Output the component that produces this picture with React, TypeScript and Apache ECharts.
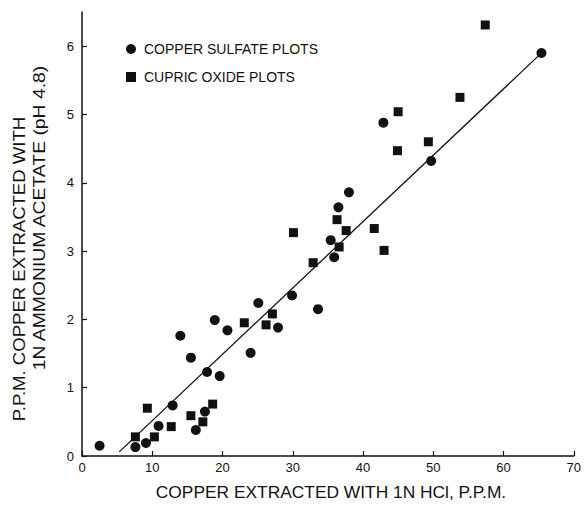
import React, { useEffect, useRef } from "react";
import * as echarts from "echarts";

// Copper sulfate plots (circles)
const sulfateX = [2.5, 7.6, 9.1, 10.9, 12.9, 14.0, 15.5, 16.2, 17.5, 17.8, 18.9, 19.6, 20.7, 24.0, 25.1, 27.9, 29.9, 33.6, 35.4, 35.9, 36.5, 38.0, 42.9, 49.7, 65.4];
const sulfateY = [0.15, 0.13, 0.19, 0.44, 0.74, 1.76, 1.44, 0.38, 0.65, 1.23, 1.99, 1.17, 1.84, 1.51, 2.24, 1.88, 2.35, 2.15, 3.16, 2.91, 3.64, 3.86, 4.88, 4.32, 5.9];

// Cupric oxide plots (squares)
const oxideX = [7.6, 9.3, 10.3, 12.7, 15.5, 17.2, 18.6, 23.1, 26.2, 27.1, 30.1, 32.9, 36.3, 36.6, 37.6, 41.6, 43.0, 44.9, 45.0, 49.3, 53.8, 57.4];
const oxideY = [0.28, 0.7, 0.28, 0.43, 0.59, 0.5, 0.76, 1.95, 1.92, 2.08, 3.27, 2.83, 3.46, 3.06, 3.3, 3.33, 3.01, 4.47, 5.04, 4.6, 5.25, 6.31];

// Fitted line end points
const fitX = [5.3, 65.2];
const fitY = [0.06, 5.88];

const yTicks = [0, 1, 2, 3, 4, 5, 6];
const seriesNames = ["COPPER SULFATE PLOTS", "CUPRIC OXIDE PLOTS"];
const xTitle = "COPPER EXTRACTED WITH 1N HCl, P.P.M.";
const yTitle1 = "P.P.M. COPPER EXTRACTED WITH";
const yTitle2 = "1N AMMONIUM ACETATE (pH 4.8)";

const FONT = "'Liberation Sans', Arial, sans-serif";
const INK = "#111";

export default function App() {
  const ref = useRef<HTMLDivElement>(null);
  useEffect(() => {
    const chart = echarts.init(ref.current!, null, { renderer: "svg" });
    chart.setOption({
      animation: false,
      backgroundColor: "#fff",
      grid: { left: 82, right: 10, top: 12, bottom: 49, containLabel: false },
      legend: {
        data: seriesNames,
        orient: "vertical",
        left: 126,
        top: 42,
        itemWidth: 10,
        itemHeight: 10,
        itemGap: 14,
        padding: 0,
        selectedMode: false,
        textStyle: { color: INK, fontSize: 14, fontFamily: FONT, padding: [0, 0, 0, 3] },
      },
      xAxis: {
        type: "value",
        min: 0,
        max: 70,
        interval: 10,
        axisLine: { show: true, lineStyle: { color: INK, width: 1.5 } },
        axisTick: { show: true, inside: true, length: 5, lineStyle: { color: INK, width: 1.2 } },
        axisLabel: { color: INK, fontSize: 13, fontFamily: FONT, margin: 5 },
        splitLine: { show: false },
      },
      yAxis: {
        type: "value",
        min: 0,
        max: 6.5,
        interval: 1,
        axisLine: { show: true, lineStyle: { color: INK, width: 1.5 } },
        axisTick: { show: true, inside: true, length: 5, customValues: yTicks, lineStyle: { color: INK, width: 1.2 } },
        axisLabel: { color: INK, fontSize: 13, fontFamily: FONT, margin: 8, customValues: yTicks },
        splitLine: { show: false },
      },
      graphic: [
        {
          type: "text",
          x: 331,
          y: 493,
          scaleX: 1.085,
          style: { text: xTitle, fill: INK, font: `16px ${FONT}`, align: "center", verticalAlign: "middle" },
        },
        {
          type: "text",
          x: 19,
          y: 269,
          rotation: Math.PI / 2,
          scaleX: 1.16,
          style: { text: yTitle1, fill: INK, font: `16px ${FONT}`, align: "center", verticalAlign: "middle" },
        },
        {
          type: "text",
          x: 40,
          y: 218,
          rotation: Math.PI / 2,
          scaleX: 1.21,
          style: { text: yTitle2, fill: INK, font: `16px ${FONT}`, align: "center", verticalAlign: "middle" },
        },
      ],
      series: [
        {
          name: seriesNames[0],
          type: "scatter",
          symbol: "circle",
          symbolSize: 10,
          itemStyle: { color: INK, opacity: 1 },
          data: sulfateX.map((x, i) => [x, sulfateY[i]]),
        },
        {
          name: seriesNames[1],
          type: "scatter",
          symbol: "rect",
          symbolSize: 9,
          itemStyle: { color: INK, opacity: 1 },
          data: oxideX.map((x, i) => [x, oxideY[i]]),
        },
        {
          name: "fit",
          type: "line",
          showSymbol: false,
          silent: true,
          lineStyle: { color: INK, width: 1.3 },
          data: fitX.map((x, i) => [x, fitY[i]]),
        },
      ],
    });
    return () => chart.dispose();
  }, []);
  return <div ref={ref} style={{ position: "fixed", left: 0, top: 0, width: 584, height: 505 }} />;
}
